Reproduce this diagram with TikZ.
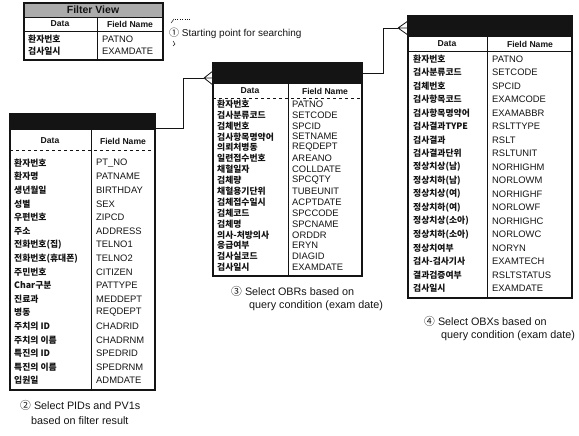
\documentclass[tikz,border=0pt]{standalone}
\usepackage{fontspec}
\setmainfont{Liberation Sans}
\newfontfamily\krfont{Noto Sans CJK KR}
\usetikzlibrary{calc}
\definecolor{ink}{HTML}{141414}
\definecolor{screen}{HTML}{ABABAB}

\begin{document}
\begin{tikzpicture}[x=1pt,y=-1pt,
  bar/.style={fill=ink,anchor=north west,inner sep=0pt},
  colhd/.style={font=\bfseries\fontsize{8.6}{9}\selectfont,text=ink,inner sep=0pt},
  krtxt/.style={font=\krfont\bfseries\fontsize{8.8}{9}\selectfont,text=ink,anchor=west,inner sep=0pt},
  fldtxt/.style={font=\fontsize{9.4}{9}\selectfont,text=ink,anchor=west,inner sep=0pt},
  note/.style={font=\fontsize{10.8}{12}\selectfont,text=ink,anchor=west,inner sep=0pt},
  link/.style={draw=ink,line width=0.8pt}]
\useasboundingbox (0,0) rectangle (579,436);

% filter view
\fill[screen] (24,3) rectangle (163,17);
\node[font=\bfseries\fontsize{10.5}{11}\selectfont,text=ink] (fvtitle) at (93,10) {Filter View};
\draw[ink,line width=1.2pt] (24,3) rectangle (163,60);
\draw[ink,line width=0.6pt] (24,17) -- (163,17) (24,31) -- (163,31) (97,17) -- (97,60);
\node[colhd] (fvdata) at (60,24) {Data};
\node[colhd] (fvfield) at (130,24) {Field Name};
\node[krtxt] (fvd1) at (28,39) {환자번호};
\node[fldtxt] (fvf1) at (102,39) {PATNO};
\node[krtxt] (fvd2) at (28,51) {검사일시};
\node[fldtxt] (fvf2) at (102,51) {EXAMDATE};

\node[note,font=\fontsize{10}{12}\selectfont] (start) at (169,33) {{\krfont ①} Starting point for searching};
\draw[ink,line width=0.5pt] (171,23) -- (174,19);
\draw[ink,dotted,line width=0.4pt] (175,19) -- (190,19);
\draw[ink,line width=0.5pt] (173,41) -- (175,44) -- (173,46);

% PIDs and PV1s
\node[bar,minimum width=145pt,minimum height=16pt] (pidhead) at (10,114) {};
\draw[ink,line width=1.2pt] (10,114) rectangle (155,390);
\draw[ink,line width=0.6pt] (91,130) -- (91,390);
\draw[ink,line width=0.6pt,dashed] (10,150) -- (155,150);
\node[colhd] (piddata) at (50,141) {Data};
\node[colhd] (pidfield) at (123,141) {Field Name};
\foreach \d/\f [count=\i from 0] in {환자번호/PT\_NO,환자명/PATNAME,생년월일/BIRTHDAY,
    성별/SEX,우편번호/ZIPCD,주소/ADDRESS,전화번호(집)/TELNO1,전화번호(휴대폰)/TELNO2,
    주민번호/CITIZEN,Char구분/PATTYPE,진료과/MEDDEPT,병동/REQDEPT,주치의 ID/CHADRID,
    주치의 이름/CHADRNM,특진의 ID/SPEDRID,특진의 이름/SPEDRNM,입원일/ADMDATE}{
  \node[krtxt] (pidd\i) at (14,{163+13.6*\i}) {\d};
  \node[fldtxt] (pidf\i) at (96,{163+13.6*\i}) {\f};
}
\node[note] (cap2a) at (20,405) {{\krfont ②} Select PIDs and PV1s};
\node[note] (cap2b) at (31,421) {based on filter result};

% OBRs
\node[bar,minimum width=149pt,minimum height=21pt] (obrhead) at (213,63) {};
\draw[ink,line width=1.2pt] (213,63) rectangle (362,276);
\draw[ink,line width=0.6pt] (288,84) -- (288,276);
\draw[ink,line width=0.6pt,dashed] (213,98) -- (362,98);
\node[colhd] (obrdata) at (250,91) {Data};
\node[colhd] (obrfield) at (325,91) {Field Name};
\foreach \d/\f [count=\i from 0] in {환자번호/PATNO,검사분류코드/SETCODE,검체번호/SPCID,
    검사항목명약어/SETNAME,의뢰처병동/REQDEPT,일련접수번호/AREANO,채혈일자/COLLDATE,
    검체량/SPCQTY,채혈용기단위/TUBEUNIT,검체접수일시/ACPTDATE,검체코드/SPCCODE,
    검체명/SPCNAME,의사-처방의사/ORDDR,응급여부/ERYN,검사실코드/DIAGID,검사일시/EXAMDATE}{
  \node[krtxt] (obrd\i) at (217,{104+10.9*\i}) {\d};
  \node[fldtxt] (obrf\i) at (292,{104+10.9*\i}) {\f};
}
\node[note] (cap3a) at (231,291) {{\krfont ③} Select OBRs based on};
\node[note] (cap3b) at (249,306) {query condition (exam date)};

% OBXs
\node[bar,minimum width=164pt,minimum height=21pt] (obxhead) at (408,16) {};
\draw[ink,line width=1.2pt] (408,16) rectangle (572,298);
\draw[ink,line width=0.6pt] (487,37) -- (487,298);
\draw[ink,line width=0.6pt] (408,51) -- (572,51);
\node[colhd] (obxdata) at (447,44) {Data};
\node[colhd] (obxfield) at (530,44) {Field Name};
\foreach \d/\f [count=\i from 0] in {환자번호/PATNO,검사분류코드/SETCODE,검체번호/SPCID,
    검사항목코드/EXAMCODE,검사항목명약어/EXAMABBR,검사결과TYPE/RSLTTYPE,검사결과/RSLT,
    검사결과단위/RSLTUNIT,정상치상(남)/NORHIGHM,정상치하(남)/NORLOWM,정상치상(여)/NORHIGHF,
    정상치하(여)/NORLOWF,정상치상(소아)/NORHIGHC,정상치하(소아)/NORLOWC,정상치여부/NORYN,
    검사-검사기사/EXAMTECH,결과검증여부/RSLTSTATUS,검사일시/EXAMDATE}{
  \node[krtxt] (obxd\i) at (413,{59+13.5*\i}) {\d};
  \node[fldtxt] (obxf\i) at (492,{59+13.5*\i}) {\f};
}
\node[note] (cap4a) at (424,321) {{\krfont ④} Select OBXs based on};
\node[note] (cap4b) at (441,336) {query condition (exam date)};

% links with crow's foot
\coordinate (obrfoot) at (204,78);
\draw[link] ($(pidhead.south east)+(0,-2)$) -- ++(28,0) |- (obrfoot);
\draw[link] (obrfoot) -- (obrhead.west |- obrfoot)
  (obrfoot) -- ($(obrhead.west |- obrfoot)+(0,-7)$)
  (obrfoot) -- ($(obrhead.west |- obrfoot)+(0,7)$);
\coordinate (obxfoot) at (398,28);
\draw[link] (obrhead.east) -- ++(21,0) |- (obxfoot);
\draw[link] (obxfoot) -- (obxhead.west |- obxfoot)
  (obxfoot) -- ($(obxhead.west |- obxfoot)+(0,-7)$)
  (obxfoot) -- ($(obxhead.west |- obxfoot)+(0,7)$);
\end{tikzpicture}
\end{document}
